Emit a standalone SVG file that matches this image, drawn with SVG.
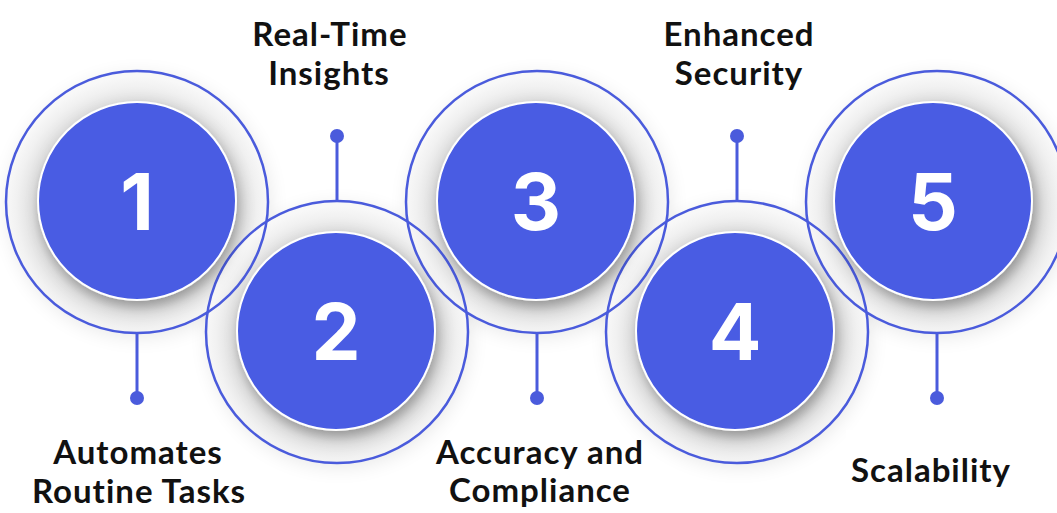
<svg xmlns="http://www.w3.org/2000/svg" width="1057" height="513" viewBox="0 0 1057 513">
  <defs>
    <radialGradient id="halo" cx="0.5" cy="0.52" r="0.5">
      <stop offset="0.70" stop-color="#c4c4c4"/>
      <stop offset="0.80" stop-color="#e0e0e0"/>
      <stop offset="0.92" stop-color="#f1f1f1"/>
      <stop offset="1" stop-color="#f8f8f8"/>
    </radialGradient>
    <filter id="outer" x="-30%" y="-30%" width="160%" height="160%">
      <feGaussianBlur stdDeviation="10"/>
    </filter>
    <filter id="inner" x="-30%" y="-30%" width="160%" height="160%">
      <feDropShadow dx="3" dy="6" stdDeviation="7" flood-color="#000" flood-opacity="0.25"/>
    </filter>
  </defs>
  <style>
    .shadow { fill: #000; opacity: 0.09; filter: url(#outer); }
    .disc { fill: url(#halo); }
    .ring { fill: none; stroke: #4a5bdc; stroke-width: 2.5; }
    .core { fill: #485ce3; stroke: #ffffff; stroke-width: 2; filter: url(#inner); }
    .num { fill: #ffffff; font-family: Inter, "Liberation Sans", sans-serif; font-weight: 700; font-size: 78px; text-anchor: middle; }
    .lbl { fill: #111111; font-family: Lato, "Liberation Sans", sans-serif; font-weight: 700; font-size: 33px; letter-spacing: 1px; text-anchor: middle; }
    .conn line { stroke: #4a5bdc; stroke-width: 3; }
    .conn circle { fill: #4a5bdc; }
  </style>
  <rect width="1057" height="513" fill="#ffffff"/>

  <!-- shadows and halos -->
  <g id="halos">
    <circle class="shadow" cx="139" cy="206" r="131"/>
    <circle class="shadow" cx="339" cy="336" r="131"/>
    <circle class="shadow" cx="539" cy="206" r="131"/>
    <circle class="shadow" cx="739" cy="336" r="131"/>
    <circle class="shadow" cx="939" cy="206" r="131"/>
    <circle class="disc" cx="137" cy="202" r="131"/>
    <circle class="disc" cx="337" cy="332" r="131"/>
    <circle class="disc" cx="537" cy="202" r="131"/>
    <circle class="disc" cx="737" cy="332" r="131"/>
    <circle class="disc" cx="937" cy="202" r="131"/>
  </g>

  <!-- white label backdrop -->
  <rect x="846" y="430" width="211" height="83" fill="#ffffff"/>

  <!-- connectors -->
  <g id="connectors" class="conn">
    <line x1="137" y1="333" x2="137" y2="398"/>
    <circle cx="137" cy="398" r="7"/>
    <line x1="337" y1="201" x2="337" y2="136"/>
    <circle cx="337" cy="136" r="7"/>
    <line x1="537" y1="333" x2="537" y2="398"/>
    <circle cx="537" cy="398" r="7"/>
    <line x1="737" y1="201" x2="737" y2="136"/>
    <circle cx="737" cy="136" r="7"/>
    <line x1="937" y1="333" x2="937" y2="398"/>
    <circle cx="937" cy="398" r="7"/>
  </g>

  <!-- rings -->
  <g id="rings">
    <circle class="ring" cx="137" cy="202" r="131"/>
    <circle class="ring" cx="337" cy="332" r="131"/>
    <circle class="ring" cx="537" cy="202" r="131"/>
    <circle class="ring" cx="737" cy="332" r="131"/>
    <circle class="ring" cx="937" cy="202" r="131"/>
  </g>

  <g id="node1">
    <circle class="core" cx="137" cy="201" r="99"/>
    <text class="num" x="137" y="230">1</text>
    <text class="lbl" x="138" y="464">Automates</text>
    <text class="lbl" x="139" y="503">Routine Tasks</text>
  </g>
  <g id="node2">
    <circle class="core" cx="336" cy="331" r="99"/>
    <text class="num" x="336" y="360">2</text>
    <text class="lbl" x="330" y="46">Real-Time</text>
    <text class="lbl" x="329" y="85">Insights</text>
  </g>
  <g id="node3">
    <circle class="core" cx="536" cy="201" r="99"/>
    <text class="num" x="536" y="230">3</text>
    <text class="lbl" x="540" y="464">Accuracy and</text>
    <text class="lbl" x="540" y="502">Compliance</text>
  </g>
  <g id="node4">
    <circle class="core" cx="735" cy="331" r="99"/>
    <text class="num" x="735" y="360">4</text>
    <text class="lbl" x="739" y="46">Enhanced</text>
    <text class="lbl" x="739" y="85">Security</text>
  </g>
  <g id="node5">
    <circle class="core" cx="933" cy="201" r="99"/>
    <text class="num" x="933" y="230">5</text>
    <text class="lbl" x="931" y="482">Scalability</text>
  </g>
</svg>
